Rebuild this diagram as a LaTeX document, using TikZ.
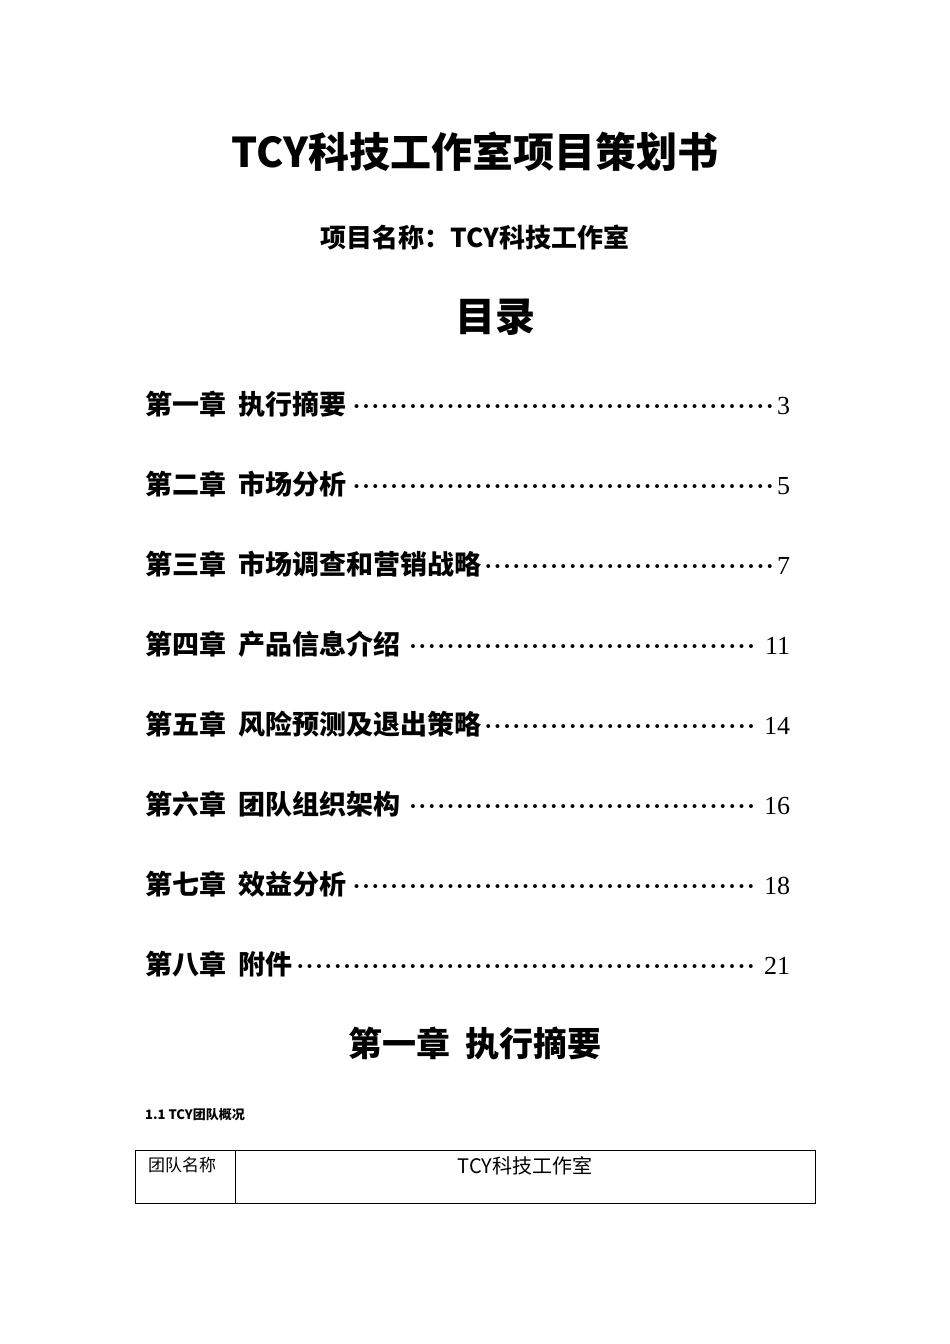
\documentclass[tikz,border=0pt]{standalone}
\usepackage{fontspec}
\setmainfont{Liberation Serif}
\newfontfamily\cjk{Noto Sans CJK SC}
\newcommand{\tocdots}{\leaders\hbox to 9.4pt{\hss{\rmfamily\bfseries\fontsize{24}{24}\selectfont·}\hss}\hfill}
\begin{document}
\begin{tikzpicture}[x=1pt,y=1pt,
  toc/.style={anchor=west,inner sep=0,font=\fontsize{27}{27}\selectfont\cjk\bfseries},
  head/.style={inner sep=0,font=\cjk\bfseries}]
\useasboundingbox (0,0) rectangle (950,-1344);
\node[head,font=\fontsize{41}{41}\selectfont\cjk\bfseries] (title) at (475,-152) {TCY科技工作室项目策划书};
\node[head,font=\fontsize{26}{26}\selectfont\cjk\bfseries] (sub) at (475,-237) {项目名称：TCY科技工作室};
\node[head,font=\fontsize{40}{40}\selectfont\cjk\bfseries] (mulu) at (495,-317) {目录};
\foreach \i/\t/\p in {0/第一章\ \ 执行摘要/3,1/第二章\ \ 市场分析/5,2/第三章\ \ 市场调查和营销战略/7,3/第四章\ \ 产品信息介绍/11,4/第五章\ \ 风险预测及退出策略/14,5/第六章\ \ 团队组织架构/16,6/第七章\ \ 效益分析/18,7/第八章\ \ 附件/21}
  \node[toc] (toc\i) at (145,-404-80*\i) {\makebox[645pt][l]{\t\tocdots{\rmfamily\mdseries\fontsize{26}{26}\selectfont\p}}};
\node[head,font=\fontsize{34}{34}\selectfont\cjk\bfseries] (ch1) at (475,-1043) {第一章\ \ 执行摘要};
\node[anchor=west,inner sep=0,font=\fontsize{13}{13}\selectfont\cjk\bfseries] (s11) at (145,-1115) {1.1 TCY团队概况};
\draw[line width=0.8pt] (135,-1150) rectangle (815,-1203);
\draw[line width=0.8pt] (235,-1150) -- (235,-1203);
\node[anchor=west,inner sep=0,font=\fontsize{17}{17}\selectfont\cjk] (k) at (148,-1165) {团队名称};
\node[inner sep=0,font=\fontsize{20}{20}\selectfont\cjk] (v) at (525,-1166) {TCY科技工作室};
\end{tikzpicture}
\end{document}
